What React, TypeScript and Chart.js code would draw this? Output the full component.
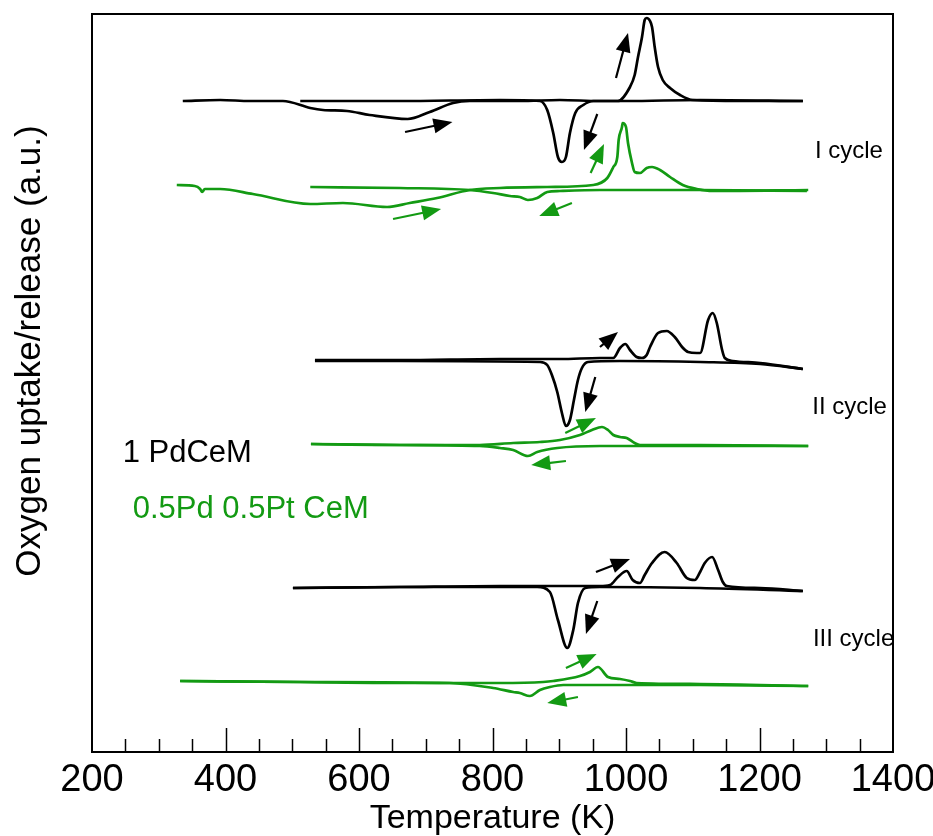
import React, { useEffect, useRef } from "react";
import { Chart, registerables } from "chart.js";
Chart.register(...registerables);

const BLACK = "#000000";
const GREEN = "#139a13";

// x axis
const xMin = 200;
const xMax = 1400;
const xStep = 200;
const minorStep = 50;
// y axis (arbitrary units)
const yMin = 0;
const yMax = 73.8;

// baseline offsets of each trace (a.u.)
const offsets = [65.1, 56.3, 39.2, 30.7, 16.5, 6.9];

// ---- Cycle I, 1 PdCeM ----
const pd1HeatT = [336, 392, 437, 486, 527, 546, 582, 616, 673, 706, 741, 766, 841, 901, 961, 988, 1006, 1013, 1018, 1024, 1028, 1031, 1036, 1039, 1043, 1048, 1055, 1066, 1081, 1100, 1171, 1265];
const pd1HeatS = [0, 0.1, 0, 0, -0.7, -0.9, -1.0, -1.4, -1.8, -1.1, -0.2, 0, 0, 0.1, 0, 0, 1.4, 2.6, 4.4, 6.4, 8.1, 8.3, 8.0, 7.4, 5.4, 3.4, 2.1, 1.3, 0.6, 0.1, 0, 0];
const pd1CoolT = [512, 661, 811, 871, 882, 891, 898, 904, 910, 916, 924, 936, 951, 1001, 1111, 1265];
const pd1CoolS = [0, 0, 0.1, 0, -0.9, -3.2, -5.6, -6.1, -5.6, -3.2, -1.2, -0.4, 0, 0, 0.1, 0];

// ---- Cycle I, 0.5Pd 0.5Pt CeM ----
const pt1HeatT = [327, 354, 362, 365, 369, 392, 441, 527, 576, 642, 676, 717, 766, 811, 882, 951, 972, 981, 987, 989, 994, 995, 1000, 1003, 1009, 1013, 1021, 1031, 1039, 1051, 1066, 1085, 1106, 1130, 1273];
const pt1HeatS = [0.4, 0.3, 0, -0.3, 0, 0, -0.5, -1.5, -1.4, -1.8, -1.4, -0.9, -0.1, 0.1, 0.2, 0.4, 1.1, 2.2, 3.2, 4.9, 6.2, 6.6, 6.2, 4.6, 2.6, 1.7, 1.6, 2.1, 2.2, 1.9, 1.2, 0.4, 0, -0.2, -0.1];
const pt1CoolT = [527, 661, 766, 801, 826, 841, 853, 867, 882, 901, 961, 1111, 1271];
const pt1CoolS = [0.2, 0.1, -0.1, -0.4, -0.7, -0.8, -1.1, -0.9, -0.3, -0.2, -0.1, -0.1, -0.2];

// ---- Cycle II, 1 PdCeM ----
const pd2HeatT = [534, 661, 811, 901, 961, 981, 991, 999, 1006, 1016, 1024, 1031, 1036, 1048, 1061, 1073, 1084, 1093, 1106, 1111, 1123, 1130, 1136, 1144, 1148, 1160, 1201, 1265];
const pd2HeatS = [0, 0, 0.1, 0.1, 0.2, 0.2, 1.2, 1.6, 1.0, 0.3, 0.2, 0.5, 1.3, 2.7, 2.9, 2.3, 1.3, 0.8, 0.7, 0.7, 4.0, 4.7, 3.7, 1.0, 0.2, -0.1, -0.3, -0.9];
const pd2CoolT = [534, 661, 871, 882, 889, 897, 904, 910, 916, 922, 928, 934, 943, 991, 1111, 1201, 1265];
const pd2CoolS = [-0.1, -0.1, -0.2, -0.5, -1.5, -3.2, -5.3, -6.6, -6.0, -4.0, -2.0, -0.8, -0.2, -0.1, -0.2, -0.4, -0.9];

// ---- Cycle II, 0.5Pd 0.5Pt CeM ----
const pt2HeatT = [528, 661, 781, 831, 871, 901, 931, 949, 964, 973, 981, 991, 1001, 1013, 1021, 1111, 1273];
const pt2HeatS = [0.1, 0, 0, 0.2, 0.3, 0.5, 1.0, 1.5, 1.8, 1.5, 1.0, 0.8, 0.7, 0.2, 0, 0, -0.1];
const pt2CoolT = [528, 661, 781, 811, 831, 853, 867, 897, 961, 1111, 1273];
const pt2CoolS = [0.1, 0, -0.1, -0.3, -0.5, -1.1, -0.7, -0.3, -0.1, -0.1, -0.1];

// ---- Cycle III, 1 PdCeM ----
const pd3HeatT = [501, 661, 811, 871, 961, 976, 988, 1001, 1010, 1021, 1028, 1039, 1058, 1076, 1091, 1103, 1111, 1118, 1129, 1138, 1145, 1151, 1201, 1265];
const pd3HeatS = [-0.1, 0, 0.1, 0.1, 0.1, 0.2, 1.0, 1.6, 0.7, 0.4, 1.2, 2.4, 3.5, 2.4, 0.9, 0.7, 1.5, 2.4, 3.0, 1.7, 0.5, 0.1, -0.1, -0.4];
const pd3CoolT = [501, 661, 867, 886, 898, 912, 921, 928, 939, 961, 1111, 1265];
const pd3CoolS = [-0.1, 0, 0, -0.5, -3.3, -6.1, -4.3, -1.6, -0.1, 0, -0.1, -0.4];

// ---- Cycle III, 0.5Pd 0.5Pt CeM ----
const pt3HeatT = [332, 512, 661, 811, 876, 891, 931, 946, 958, 973, 991, 1006, 1016, 1111, 1273];
const pt3HeatS = [0.2, 0.1, 0, 0, 0.1, 0.2, 0.7, 1.1, 1.6, 0.6, 0.4, 0.2, 0, -0.1, -0.3];
const pt3CoolT = [332, 512, 736, 801, 831, 841, 856, 871, 886, 906, 961, 1111, 1273];
const pt3CoolS = [0.2, 0.1, 0, -0.5, -0.9, -1.0, -1.3, -0.7, -0.4, -0.2, -0.2, -0.2, -0.3];

// arrows (tail -> head) in data units
const arrowT1 = [669, 985, 957, 947, 919, 651, 961, 954, 909, 910, 955, 957, 910, 928];
const arrowY1 = [62.0, 67.4, 63.8, 57.9, 54.9, 53.3, 40.5, 37.5, 31.9, 29.1, 18.0, 15.1, 8.4, 5.5];
const arrowT2 = [740, 1003, 937, 967, 870, 723, 988, 939, 955, 858, 1006, 940, 956, 882];
const arrowY2 = [63.0, 71.9, 60.2, 60.8, 53.6, 54.3, 42.0, 34.0, 33.4, 28.7, 19.3, 11.8, 9.8, 4.9];
const arrowIsGreen = [false, false, false, true, true, true, false, false, true, true, false, false, true, true];

// text labels
const labelTexts = ["I cycle", "II cycle", "III cycle", "1 PdCeM", "0.5Pd 0.5Pt CeM"];
const labelT = [1283, 1279, 1280, 246, 261];
const labelY = [59.4, 33.8, 10.6, 29.0, 23.4];
const labelSize = [24, 24, 24, 31, 31];
const labelGreen = [false, false, false, false, true];

const xTitle = "Temperature (K)";
const yTitle = "Oxygen uptake/release (a.u.)";
const yTitleCenter = 40.1;

const FONT = '"Liberation Sans", Arial, Helvetica, sans-serif';

function pts(T: number[], S: number[], off: number) {
  return T.map((t, i) => ({ x: t, y: off + S[i] }));
}

function ds(T: number[], S: number[], off: number, color: string) {
  return {
    data: pts(T, S, off),
    borderColor: color,
    backgroundColor: color,
    borderWidth: 2.7,
    pointRadius: 0,
    fill: false,
    cubicInterpolationMode: "monotone" as const,
  };
}

const overlay = {
  id: "overlay",
  afterDraw(chart: any) {
    const { ctx, chartArea: ca } = chart;
    const x = chart.scales.x;
    const y = chart.scales.y;
    ctx.save();
    // frame
    ctx.strokeStyle = "#000";
    ctx.lineWidth = 2;
    ctx.beginPath();
    ctx.moveTo(ca.left, ca.top);
    ctx.lineTo(ca.right, ca.top);
    ctx.lineTo(ca.right, ca.bottom);
    ctx.stroke();
    // inward ticks
    ctx.lineWidth = 1.5;
    for (let v = xMin + minorStep; v < xMax; v += minorStep) {
      const px = Math.round(x.getPixelForValue(v)) + 0.5;
      const len = v % xStep === 0 ? 24 : 13;
      ctx.beginPath();
      ctx.moveTo(px, ca.bottom);
      ctx.lineTo(px, ca.bottom - len);
      ctx.stroke();
    }
    // arrows
    for (let i = 0; i < arrowT1.length; i++) {
      const x1 = x.getPixelForValue(arrowT1[i]);
      const y1 = y.getPixelForValue(arrowY1[i]);
      const x2 = x.getPixelForValue(arrowT2[i]);
      const y2 = y.getPixelForValue(arrowY2[i]);
      const col = arrowIsGreen[i] ? GREEN : BLACK;
      const ang = Math.atan2(y2 - y1, x2 - x1);
      const hl = 19;
      const hw = 7.5;
      const bx = x2 - hl * Math.cos(ang);
      const by = y2 - hl * Math.sin(ang);
      ctx.strokeStyle = col;
      ctx.fillStyle = col;
      ctx.lineWidth = 2.2;
      ctx.beginPath();
      ctx.moveTo(x1, y1);
      ctx.lineTo(bx + 2 * Math.cos(ang), by + 2 * Math.sin(ang));
      ctx.stroke();
      ctx.beginPath();
      ctx.moveTo(x2, y2);
      ctx.lineTo(bx + hw * Math.sin(ang), by - hw * Math.cos(ang));
      ctx.lineTo(bx - hw * Math.sin(ang), by + hw * Math.cos(ang));
      ctx.closePath();
      ctx.fill();
    }
    // labels
    ctx.textAlign = "left";
    ctx.textBaseline = "alphabetic";
    for (let i = 0; i < labelTexts.length; i++) {
      ctx.fillStyle = labelGreen[i] ? GREEN : BLACK;
      ctx.font = `${labelSize[i]}px ${FONT}`;
      ctx.fillText(labelTexts[i], x.getPixelForValue(labelT[i]), y.getPixelForValue(labelY[i]));
    }
    // y title
    ctx.save();
    ctx.translate(ca.left - 62, y.getPixelForValue(yTitleCenter));
    ctx.rotate(-Math.PI / 2);
    ctx.fillStyle = "#000";
    ctx.font = `35px ${FONT}`;
    ctx.textAlign = "center";
    ctx.textBaseline = "middle";
    ctx.fillText(yTitle, 0, 0);
    ctx.restore();
    ctx.restore();
  },
};

export default function App() {
  const ref = useRef<HTMLCanvasElement | null>(null);
  useEffect(() => {
    if (!ref.current) return;
    const chart = new Chart(ref.current, {
      type: "line",
      data: {
        datasets: [
          ds(pd1HeatT, pd1HeatS, offsets[0], BLACK),
          ds(pd1CoolT, pd1CoolS, offsets[0], BLACK),
          ds(pt1HeatT, pt1HeatS, offsets[1], GREEN),
          ds(pt1CoolT, pt1CoolS, offsets[1], GREEN),
          ds(pd2HeatT, pd2HeatS, offsets[2], BLACK),
          ds(pd2CoolT, pd2CoolS, offsets[2], BLACK),
          ds(pt2HeatT, pt2HeatS, offsets[3], GREEN),
          ds(pt2CoolT, pt2CoolS, offsets[3], GREEN),
          ds(pd3HeatT, pd3HeatS, offsets[4], BLACK),
          ds(pd3CoolT, pd3CoolS, offsets[4], BLACK),
          ds(pt3HeatT, pt3HeatS, offsets[5], GREEN),
          ds(pt3CoolT, pt3CoolS, offsets[5], GREEN),
        ] as any,
      },
      options: {
        animation: false,
        responsive: false,
        devicePixelRatio: 1,
        layout: { padding: { top: 14, right: 40, left: 0, bottom: 0 } },
        plugins: { legend: { display: false }, tooltip: { enabled: false } },
        elements: { line: { tension: 0 } },
        scales: {
          x: {
            type: "linear",
            min: xMin,
            max: xMax,
            grid: { display: false, drawTicks: false },
            border: { display: true, color: "#000", width: 2 },
            ticks: {
              stepSize: xStep,
              color: "#000",
              padding: 6,
              maxRotation: 0,
              font: { family: FONT, size: 38 },
              callback: (v: any) => String(v),
            },
            title: {
              display: true,
              text: xTitle,
              color: "#000",
              font: { family: FONT, size: 34, lineHeight: 1 },
              padding: { top: 0, bottom: 0 },
            },
            afterFit: (s: any) => {
              s.height = 84;
              s.paddingLeft = 0;
              s.paddingRight = 0;
            },
          },
          y: {
            type: "linear",
            min: yMin,
            max: yMax,
            grid: { display: false, drawTicks: false },
            border: { display: true, color: "#000", width: 2 },
            ticks: { display: false },
            afterFit: (s: any) => {
              s.width = 92;
            },
          },
        },
      },
      plugins: [overlay],
    });
    return () => chart.destroy();
  }, []);
  return (
    <div style={{ position: "fixed", left: 0, top: 0, width: 933, height: 836, background: "#fff" }}>
      <canvas ref={ref} width={933} height={836} style={{ width: 933, height: 836 }} />
    </div>
  );
}
